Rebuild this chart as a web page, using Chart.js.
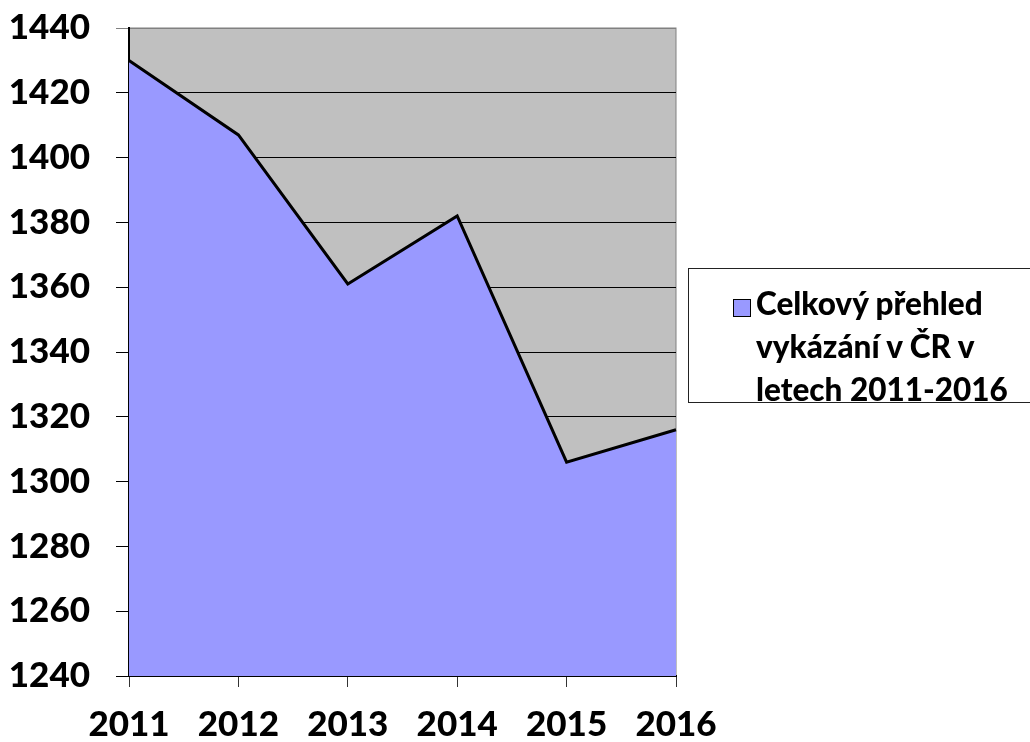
<!DOCTYPE html>
<html>
<head>
	<title>Celkový přehled vykázání v ČR</title>
	<script src="https://cdn.jsdelivr.net/npm/chart.js@4/dist/chart.umd.min.js"></script>
	<style>
		body { margin: 0; background: #fff; }
		#wrap { position: relative; width: 1030px; height: 742px; }
		#legendBox {
			position: absolute; left: 688px; top: 268px; width: 350px; height: 135px;
			border: 1px solid #222; box-sizing: border-box; background: #fff;
			font-family: Lato, sans-serif; font-weight: 900; font-size: 31.5px; line-height: 43px;
			color: #000;
		}
		#legendBox .sym {
			position: absolute; left: 44px; top: 30px; width: 16px; height: 16px;
			background: #9999ff; border: 1.5px solid #000;
		}
		#legendBox .txt { position: absolute; left: 67px; top: 13px; white-space: nowrap; }
	</style>
</head>
<body>
	<div id="wrap">
		<canvas id="myChart" width="1030" height="742"></canvas>
		<div id="legendBox">
			<div class="sym"></div>
			<div class="txt">Celkový přehled<br>vykázání v ČR v<br>letech 2011-2016</div>
		</div>
	</div>
	<script>
		const years = ["2011", "2012", "2013", "2014", "2015", "2016"];
		const counts = [1430, 1407, 1361, 1382, 1306, 1316];
		const seriesName = "Celkový přehled vykázání v ČR v letech 2011-2016";

		const FONT = { family: "Lato, sans-serif", size: 35, weight: "900" };

		// gray plot background + thin gray frame
		const plotBg = {
			id: "plotBg",
			beforeDraw(chart) {
				const { ctx, chartArea: a } = chart;
				ctx.save();
				ctx.fillStyle = "#c0c0c0";
				ctx.fillRect(a.left, a.top, a.right - a.left, a.bottom - a.top);
				ctx.strokeStyle = "#808080";
				ctx.lineWidth = 1;
				ctx.strokeRect(a.left, a.top, a.right - a.left, a.bottom - a.top);
				ctx.restore();
			}
		};

		new Chart("myChart", {
			type: "line",
			data: {
				labels: years,
				datasets: [{
					label: seriesName,
					data: counts,
					fill: "start",
					backgroundColor: "#9999ff",
					borderColor: "#000",
					borderWidth: 3,
					pointRadius: 0,
					tension: 0
				}]
			},
			options: {
				responsive: false,
				animation: false,
				layout: { padding: { top: 28, right: 354, left: 0, bottom: 0 } },
				plugins: { legend: { display: false }, tooltip: { enabled: false } },
				scales: {
					x: {
						offset: false,
						grid: { drawOnChartArea: false, drawTicks: true, tickLength: 11, color: "#333" },
						border: { color: "#000", width: 2 },
						ticks: { font: FONT, color: "#000", padding: 17, maxRotation: 0 },
						afterFit(s) { s.height = 66; s.paddingLeft = 0; s.paddingRight = 0; }
					},
					y: {
						min: 1240,
						max: 1440,
						grid: {
							color: c => c.tick && c.tick.value === 1440 ? "#808080" : "#000",
							lineWidth: 1,
							tickLength: 13
						},
						border: { color: "#000", width: 2 },
						ticks: { stepSize: 20, font: FONT, color: "#000", padding: 26, callback: v => String(v) },
						afterFit(s) { s.width = 129; s.paddingTop = 0; s.paddingBottom = 0; }
					}
				}
			},
			plugins: [plotBg]
		});
	</script>
</body>
</html>
